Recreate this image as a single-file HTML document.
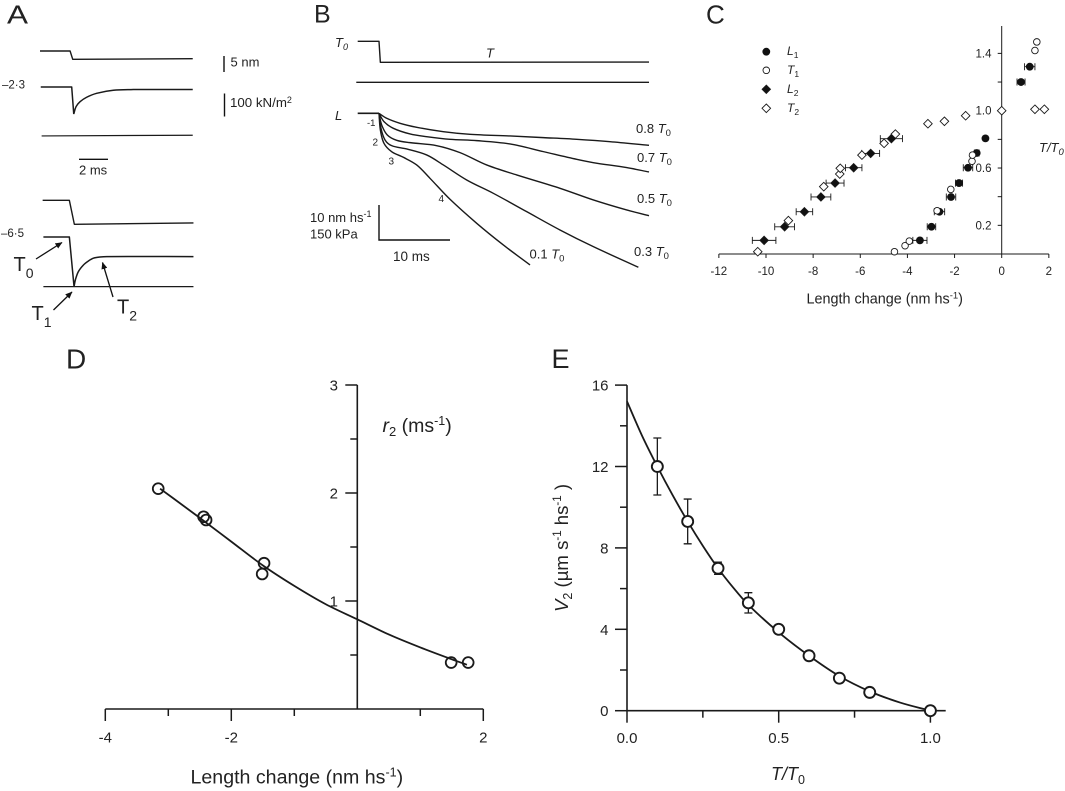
<!DOCTYPE html>
<html lang="en">
<head>
<meta charset="utf-8">
<title>Muscle length and tension panels</title>
<style>
html,body{margin:0;padding:0;background:#fff}
svg{display:block}
text{font-family:"Liberation Sans",sans-serif;fill:#222}
.it{font-style:italic}
</style>
</head>
<body>
<svg id="fig" xmlns="http://www.w3.org/2000/svg" width="1065" height="791" viewBox="0 0 1065 791">
<rect width="1065" height="791" fill="#fff"/>
<defs><marker id="ah" markerWidth="7" markerHeight="6" refX="6.5" refY="3" orient="auto" markerUnits="userSpaceOnUse"><path d="M0 0L7 3L0 6Z" fill="#111"/></marker></defs>

<g id="pa">
<text x="7" y="23.3" font-size="26" textLength="21" lengthAdjust="spacingAndGlyphs">A</text>
<text x="2" y="88.5" font-size="11.5">–2·3</text>
<text x="1" y="237" font-size="11.5">–6·5</text>
<line x1="224" y1="56" x2="224" y2="72" stroke="#111" stroke-width="1.4"/>
<text x="230.5" y="66.5" font-size="13">5 nm</text>
<line x1="224.5" y1="93.5" x2="224.5" y2="116.5" stroke="#111" stroke-width="1.4"/>
<text x="230" y="107" font-size="13.3">100 kN/m<tspan dy="-4" font-size="9">2</tspan></text>
<line x1="79" y1="159.3" x2="108" y2="159.3" stroke="#111" stroke-width="1.4"/>
<text x="79" y="174.5" font-size="13">2 ms</text>
<text x="13.5" y="271" font-size="20">T<tspan dy="7" font-size="14">0</tspan></text>
<text x="31.5" y="320" font-size="20">T<tspan dy="7" font-size="14">1</tspan></text>
<text x="117" y="313.5" font-size="20">T<tspan dy="7" font-size="14">2</tspan></text>
<line x1="36" y1="259" x2="62" y2="242.5" stroke="#111" stroke-width="1.3" marker-end="url(#ah)"/>
<line x1="53.5" y1="310" x2="72" y2="292" stroke="#111" stroke-width="1.3" marker-end="url(#ah)"/>
<line x1="113" y1="297" x2="102.5" y2="262.5" stroke="#111" stroke-width="1.3" marker-end="url(#ah)"/>
</g>

<g id="pb">
<text x="314" y="22.7" font-size="25">B</text>
<text class="it" x="335" y="47" font-size="13">T<tspan dy="3" font-size="9">0</tspan></text>
<text class="it" x="486" y="57.5" font-size="13">T</text>
<text class="it" x="335" y="120" font-size="13">L</text>
<text x="367" y="126" font-size="9.5">-1</text>
<text x="372.5" y="145.5" font-size="10">2</text>
<text x="388.5" y="164.5" font-size="10">3</text>
<text x="438.5" y="202" font-size="10">4</text>
<text x="636" y="133" font-size="13">0.8 <tspan class="it">T</tspan><tspan dy="3" font-size="9.5">0</tspan></text>
<text x="637" y="162" font-size="13">0.7 <tspan class="it">T</tspan><tspan dy="3" font-size="9.5">0</tspan></text>
<text x="637" y="203" font-size="13">0.5 <tspan class="it">T</tspan><tspan dy="3" font-size="9.5">0</tspan></text>
<text x="634" y="256" font-size="13">0.3 <tspan class="it">T</tspan><tspan dy="3" font-size="9.5">0</tspan></text>
<text x="529.5" y="258.5" font-size="13">0.1 <tspan class="it">T</tspan><tspan dy="3" font-size="9.5">0</tspan></text>
<polyline points="379,205 379,240 450,240" fill="none" stroke="#111" stroke-width="1.4"/>
<text x="310" y="222" font-size="13">10 nm hs<tspan dy="-5" font-size="9">-1</tspan></text>
<text x="310" y="238.5" font-size="13">150 kPa</text>
<text x="393" y="261" font-size="13.5">10 ms</text>
</g>

<g id="pc">
<text x="706" y="23.5" font-size="26">C</text>
<text x="806.5" y="303.5" font-size="14.4">Length change (nm hs<tspan dy="-5" font-size="9.5">-1</tspan><tspan dy="5">)</tspan></text>
<text class="it" x="1039" y="152" font-size="13">T/T<tspan dy="3" font-size="9.5">0</tspan></text>
<text class="it" x="787" y="55" font-size="12">L<tspan dy="3" font-size="8.5" font-style="normal">1</tspan></text>
<text class="it" x="787" y="74" font-size="12">T<tspan dy="3" font-size="8.5" font-style="normal">1</tspan></text>
<text class="it" x="787" y="93" font-size="12">L<tspan dy="3" font-size="8.5" font-style="normal">2</tspan></text>
<text class="it" x="787" y="112" font-size="12">T<tspan dy="3" font-size="8.5" font-style="normal">2</tspan></text>
</g>

<g id="pd">
<text x="66" y="368.3" font-size="28">D</text>
<text x="190.5" y="783.5" font-size="19.6">Length change (nm hs<tspan dy="-7" font-size="12.5">-1</tspan><tspan dy="7">)</tspan></text>
<text x="382.5" y="432" font-size="19.5"><tspan class="it">r</tspan><tspan dy="4" font-size="13">2</tspan><tspan dy="-4"> (ms</tspan><tspan dy="-7" font-size="12.5">-1</tspan><tspan dy="7">)</tspan></text>
</g>

<g id="pe">
<text x="551.5" y="368" font-size="27">E</text>
<text x="771" y="780" font-size="18"><tspan class="it">T</tspan><tspan class="it">/</tspan><tspan class="it">T</tspan><tspan dy="4" font-size="12.5">0</tspan></text>
<text transform="translate(568,612) rotate(-90)" font-size="18.6"><tspan class="it">V</tspan><tspan dy="4" font-size="12.5">2</tspan><tspan dy="-4"> (µm s</tspan><tspan dy="-7" font-size="11.5">-1</tspan><tspan dy="7"> hs</tspan><tspan dy="-7" font-size="11.5">-1</tspan><tspan dy="7"> )</tspan></text>
</g>
</svg>

<script>
// ---- Panel A data (time in ms, length in nm, tension in kN/m2) ----
const aLen1T = [-2.16, -0.11, 0.07, 8.25];
const aLen1V = [0, 0, -2.66, -2.45];
const aTen1T = [-2.11, 0, 0.14, 0.30, 0.57, 1.02, 1.70, 2.84, 4.2, 8.25];
const aTen1V = [0, 0, -116, -84, -63, -44, -27, -14, -11, -11];
const aBase1T = [-2.05, 8.25];
const aBase1V = [-210, -207];
const aLen2T = [-1.98, -0.16, 0.18, 8.3];
const aLen2V = [0, 0, -7.66, -7.23];
const aTen2T = [-1.93, -0.16, 0.16, 0.25, 0.45, 0.8, 1.14, 1.48, 1.93, 2.39, 8.3];
const aTen2V = [0, 0, -213, -184, -149, -120, -103, -91, -86, -84, -84];
const aBase2T = [-1.93, 8.3];
const aBase2V = [-213, -213];

// ---- Panel B data (time in ms, shortening in nm/hs, tension in kPa) ----
const bTensionT = [-3, 0, 0.19, 38.03];
const bTensionV = [0, 0, -90, -89];
const bZeroT = [-3.2, 38.03];
const bZeroV = [-176, -176];
const bLeadT = [-3, 0];
const bLeadV = [0, 0];
const b08T = [0, 1.08, 2.96, 5.31, 9.06, 12.82, 18.45, 23.15, 27.84, 32.54, 38.03];
const b08V = [0, -1.43, -2.86, -4, -5.24, -6, -6.48, -6.95, -7.43, -8.1, -9.14];
const b07T = [0, 0.70, 2.02, 4.37, 6.71, 10, 13.76, 18.45, 23.15, 27.84, 30.19, 34.88, 38.03];
const b07V = [0, -2.38, -4.29, -5.9, -6.67, -7.43, -7.81, -8.76, -10.95, -13.14, -14.1, -15.52, -16.76];
const b05T = [0, 0.38, 1.17, 2.49, 4.37, 8.12, 11.41, 15.16, 19.39, 25.49, 30.19, 34.88, 38.03];
const b05V = [0, -3.33, -6.19, -7.71, -8.38, -9.24, -11.24, -14.76, -17.62, -21.43, -24.76, -27.62, -29.24];
const b03T = [0, 0.28, 0.85, 1.78, 3.9, 6.71, 9.06, 12.35, 16.1, 20.8, 25.49, 30.19, 36.53];
const b03V = [0, -4.29, -7.62, -9.24, -10.19, -11.9, -14.76, -19.05, -22.86, -28.1, -33.33, -38.1, -44];
const b01T = [0, 0.19, 0.70, 1.78, 3.43, 5.31, 7.18, 10, 13.76, 17.51, 21.27];
const b01V = [0, -4.76, -8.57, -10.95, -12.57, -14.76, -18.57, -24.57, -31.43, -37.62, -43.33];

// ---- Panel C data ----
const cXTicks = [-12, -10, -8, -6, -4, -2, 0, 2];
const cXTickLabels = ['-12', '-10', '-8', '-6', '-4', '-2', '0', '2'];
const cYTicks = [0.2, 0.4, 0.6, 0.8, 1.0, 1.2, 1.4];
const cYTickLabels = ['0.2', '', '0.6', '', '1.0', '', '1.4'];
const l1X = [-0.69, -1.06, -1.43, -1.81, -2.15, -2.64, -2.98, -3.47, 0.82, 1.19];
const l1Y = [0.807, 0.705, 0.602, 0.495, 0.398, 0.295, 0.19, 0.095, 1.2, 1.307];
const l1Err = [0, 0.1, 0.2, 0.15, 0.2, 0.22, 0.18, 0.3, 0.17, 0.22];
const t1X = [-4.55, -4.1, -3.92, -2.74, -2.16, -1.26, -1.24, 1.41, 1.49];
const t1Y = [0.016, 0.058, 0.09, 0.302, 0.451, 0.647, 0.69, 1.42, 1.48];
const l2X = [-4.68, -5.56, -6.28, -7.07, -7.67, -8.37, -9.21, -10.08];
const l2Y = [0.805, 0.702, 0.602, 0.495, 0.398, 0.295, 0.19, 0.095];
const l2Err = [0.47, 0.38, 0.35, 0.38, 0.42, 0.35, 0.42, 0.5];
const t2X = [-10.35, -9.05, -7.55, -6.87, -6.85, -5.93, -4.99, -4.51, -3.13, -2.43, -1.53, 0, 1.41, 1.81];
const t2Y = [0.016, 0.233, 0.47, 0.558, 0.598, 0.69, 0.772, 0.837, 0.909, 0.926, 0.965, 1.0, 1.01, 1.01];

// ---- Panel D data ----
const dXTicks = [-4, -3, -2, -1, 0, 1, 2];
const dXTickLabels = ['-4', '', '-2', '', '', '', '2'];
const dYTicks = [0.5, 1, 1.5, 2, 2.5, 3];
const dYTickLabels = ['', '1', '', '2', '', '3'];
const dPointX = [-3.16, -2.44, -2.40, -1.48, -1.51, 1.49, 1.76];
const dPointY = [2.04, 1.78, 1.75, 1.35, 1.25, 0.43, 0.43];
const dCurveX = [-3.13, -2.5, -2, -1.5, -1, -0.5, 0, 0.5, 1, 1.5, 1.74];
const dCurveY = [2.04, 1.77, 1.55, 1.33, 1.14, 0.97, 0.83, 0.69, 0.57, 0.46, 0.41];

// ---- Panel E data ----
const eXTicks = [0, 0.25, 0.5, 0.75, 1];
const eXTickLabels = ['0.0', '', '0.5', '', '1.0'];
const eYTicks = [0, 2, 4, 6, 8, 10, 12, 14, 16];
const eYTickLabels = ['0', '', '4', '', '8', '', '12', '', '16'];
const ePointX = [0.1, 0.2, 0.3, 0.4, 0.5, 0.6, 0.7, 0.8, 1.0];
const ePointY = [12, 9.3, 7, 5.3, 4, 2.7, 1.6, 0.9, 0];
const eErrLow = [10.6, 8.2, 6.7, 4.8, 3.8, 2.6, 1.5, 0.8, 0];
const eErrHigh = [13.4, 10.4, 7.3, 5.8, 4.2, 2.8, 1.7, 1.0, 0];
const eCurveX = [0, 0.05, 0.1, 0.15, 0.2, 0.25, 0.3, 0.35, 0.4, 0.5, 0.6, 0.7, 0.8, 0.9, 1];
const eCurveY = [15.2, 13.5, 12, 10.6, 9.3, 8.1, 7, 6.05, 5.2, 3.85, 2.7, 1.7, 0.95, 0.4, 0];

// ---- Axis functions ----
const xA = t => 71.7 + 14.67 * t;
const yALen = (base, v) => base - 3.13 * v;
const yATen = (base, v) => base - 0.233 * v;
const xB = t => 379 + 7.1 * t;
const yBLen = v => 113.3 - 3.5 * v;
const yBTen = v => 41.3 - 0.233 * v;
const xC = v => 1001.7 + 23.57 * v;
const yC = v => 254 - 143.3 * v;
const xD = v => 357.3 + 63 * v;
const yD = v => 709 - 108 * v;
const xE = v => 627 + 303.4 * v;
const yE = v => 710.7 - 20.35 * v;

// ---- Drawing helpers ----
const NS = 'http://www.w3.org/2000/svg';
const INK = '#1a1a1a';
function mk(tag, attrs, parent) {
  const n = document.createElementNS(NS, tag);
  for (const k in attrs) n.setAttribute(k, attrs[k]);
  parent.appendChild(n);
  return n;
}
function polyD(pts) {
  return 'M' + pts.map(p => p[0].toFixed(2) + ' ' + p[1].toFixed(2)).join('L');
}
function tangent(a, b) {
  const dx = b[0] - a[0], dy = b[1] - a[1], l = Math.hypot(dx, dy) || 1;
  return [dx / l, dy / l];
}
function smoothD(pts) {
  let d = 'M' + pts[0][0].toFixed(2) + ' ' + pts[0][1].toFixed(2);
  for (let i = 0; i < pts.length - 1; i++) {
    const p0 = pts[Math.max(i - 1, 0)], p1 = pts[i], p2 = pts[i + 1], p3 = pts[Math.min(i + 2, pts.length - 1)];
    const len = Math.hypot(p2[0] - p1[0], p2[1] - p1[1]) / 3;
    const t1 = tangent(p0, p2), t2 = tangent(p1, p3);
    d += 'C' + (p1[0] + t1[0] * len).toFixed(2) + ' ' + (p1[1] + t1[1] * len).toFixed(2) + ' ' +
         (p2[0] - t2[0] * len).toFixed(2) + ' ' + (p2[1] - t2[1] * len).toFixed(2) + ' ' +
         p2[0].toFixed(2) + ' ' + p2[1].toFixed(2);
  }
  return d;
}
function pairs(xs, ys, fx, fy) {
  return xs.map((x, i) => [fx(x), fy(ys[i])]);
}
function stroke(d, w, parent) {
  return mk('path', { d: d, fill: 'none', stroke: INK, 'stroke-width': w, 'stroke-linejoin': 'round', 'stroke-linecap': 'butt' }, parent);
}
function seg(x1, y1, x2, y2, w, parent) {
  return mk('line', { x1: x1, y1: y1, x2: x2, y2: y2, stroke: INK, 'stroke-width': w }, parent);
}
function label(x, y, size, anchor, str, parent) {
  const t = mk('text', { x: x, y: y, 'font-size': size, 'text-anchor': anchor }, parent);
  t.textContent = str;
  return t;
}

// ---- Panel A ----
const pa = document.getElementById('pa');
const aLen = b => (v => yALen(b, v));
const aTen = b => (v => yATen(b, v));
const a1 = stroke(polyD(pairs(aLen1T, aLen1V, xA, aLen(51))), 1.4, pa);


const a2 = stroke(smoothD(pairs(aTen1T.slice(2), aTen1V.slice(2), xA, aTen(87))) + 'M' + xA(aTen1T[0]) + ' 87L' + xA(aTen1T[1]) + ' 87L' + xA(aTen1T[2]) + ' ' + yATen(87, aTen1V[2]), 1.5, pa);


const a3 = stroke(polyD(pairs(aBase1T, aBase1V, xA, aTen(87))), 1.2, pa);


const a4 = stroke(polyD(pairs(aLen2T, aLen2V, xA, aLen(200.3))), 1.4, pa);


const a5 = stroke(smoothD(pairs(aTen2T.slice(2), aTen2V.slice(2), xA, aTen(237))) + 'M' + xA(aTen2T[0]) + ' 237L' + xA(aTen2T[1]) + ' 237L' + xA(aTen2T[2]) + ' ' + yATen(237, aTen2V[2]), 1.5, pa);


const a6 = stroke(polyD(pairs(aBase2T, aBase2V, xA, aTen(237))), 1.3, pa);



// ---- Panel B ----
const pb = document.getElementById('pb');
const b1 = stroke(polyD(pairs(bTensionT, bTensionV, xB, yBTen)), 1.4, pb);


const b2 = stroke(polyD(pairs(bZeroT, bZeroV, xB, yBTen)), 1.4, pb);


const b3 = stroke(polyD(pairs(bLeadT, bLeadV, xB, yBLen)), 1.6, pb);


const bCurves = [[b08T, b08V, 'length-trace-0-8'], [b07T, b07V, 'length-trace-0-7'], [b05T, b05V, 'length-trace-0-5'], [b03T, b03V, 'length-trace-0-3'], [b01T, b01V, 'length-trace-0-1']];
bCurves.forEach(c => {
  const p = stroke(smoothD(pairs(c[0], c[1], xB, yBLen)), 1.4, pb);
  
  
});

// ---- Panel C ----
const pc = document.getElementById('pc');
const cAxisX = seg(xC(-12), yC(0), xC(2), yC(0), 1, pc);


const cAxisY = seg(xC(0), 26, xC(0), yC(0), 1, pc);


cXTicks.forEach((v, i) => {
  const tk = seg(xC(v), yC(0), xC(v), yC(0) + 4, 1, pc);
  
  
  const lb = label(xC(v), 275, 11.5, 'middle', cXTickLabels[i], pc);
  
  
});
cYTicks.forEach((v, i) => {
  const tk = seg(xC(0) - 4, yC(v), xC(0), yC(v), 1, pc);
  
  
  if (cYTickLabels[i]) {
    const lb = label(991.5, yC(v) + 4, 11.5, 'end', cYTickLabels[i], pc);
    
    
  }
});
function diamond(cx, cy, r, fill, parent) {
  return mk('path', { d: 'M' + cx + ' ' + (cy - r) + 'L' + (cx + r) + ' ' + cy + 'L' + cx + ' ' + (cy + r) + 'L' + (cx - r) + ' ' + cy + 'Z', fill: fill, stroke: INK, 'stroke-width': 0.9 }, parent);
}
function errH(cx, cy, lo, hi, parent) {
  return mk('path', { d: 'M' + lo + ' ' + cy + 'H' + hi + 'M' + lo + ' ' + (cy - 3.5) + 'V' + (cy + 3.5) + 'M' + hi + ' ' + (cy - 3.5) + 'V' + (cy + 3.5), fill: 'none', stroke: INK, 'stroke-width': 0.9 }, parent);
}
l2X.forEach((x, i) => {
  const e = errH(xC(x), yC(l2Y[i]), xC(x - l2Err[i]), xC(x + l2Err[i]), pc);
  
  
  const m = diamond(xC(x), yC(l2Y[i]), 4.2, '#111', pc);
  
  
});
l1X.forEach((x, i) => {
  if (l1Err[i]) {
    const e = errH(xC(x), yC(l1Y[i]), xC(x - l1Err[i]), xC(x + l1Err[i]), pc);
    
    
  }
  const m = mk('circle', { cx: xC(x), cy: yC(l1Y[i]), r: 3.9, fill: '#111' }, pc);
  
  
});
t1X.forEach((x, i) => {
  const m = mk('circle', { cx: xC(x), cy: yC(t1Y[i]), r: 3.3, fill: '#fff', stroke: INK, 'stroke-width': 0.9 }, pc);
  
  
});
t2X.forEach((x, i) => {
  const m = diamond(xC(x), yC(t2Y[i]), 4.3, '#fff', pc);
  
  
});
const lg1 = mk('circle', { cx: 766.3, cy: 51.7, r: 3.9, fill: '#111' }, pc);


const lg2 = mk('circle', { cx: 766.3, cy: 70.3, r: 3.3, fill: '#fff', stroke: INK, 'stroke-width': 0.9 }, pc);


const lg3 = diamond(766.3, 89.3, 4.2, '#111', pc);


const lg4 = diamond(766.3, 108.3, 4.3, '#fff', pc);



// ---- Panel D ----
const pd = document.getElementById('pd');
const dAxisX = seg(xD(-4), yD(0), xD(2), yD(0), 1.6, pd);


const dAxisY = seg(xD(0), yD(3), xD(0), yD(0), 1.6, pd);


dXTicks.forEach((v, i) => {
  if (v === 0) return;
  const major = Boolean(dXTickLabels[i]);
  const tk = seg(xD(v), yD(0), xD(v), yD(0) + (major ? 12 : 7), 1.5, pd);
  
  
  if (major) {
    const lb = label(xD(v), 742.5, 15, 'middle', dXTickLabels[i], pd);
    
    
  }
});
dYTicks.forEach((v, i) => {
  const major = Boolean(dYTickLabels[i]);
  const tk = seg(xD(0) - (major ? 12 : 7), yD(v), xD(0), yD(v), 1.5, pd);
  
  
  if (major) {
    const lb = label(338, yD(v) + 5.5, 15, 'end', dYTickLabels[i], pd);
    
    
  }
});
const dCurve = stroke(smoothD(pairs(dCurveX, dCurveY, xD, yD)), 1.8, pd);


dPointX.forEach((x, i) => {
  const m = mk('circle', { cx: xD(x), cy: yD(dPointY[i]), r: 5.4, fill: 'none', stroke: INK, 'stroke-width': 1.8 }, pd);
  
  
});

// ---- Panel E ----
const pe = document.getElementById('pe');
const eAxisX = seg(xE(0), yE(0), 945.7, yE(0), 1.6, pe);


const eAxisY = seg(xE(0), yE(16), xE(0), yE(0), 1.6, pe);


eXTicks.forEach((v, i) => {
  const major = Boolean(eXTickLabels[i]);
  const tk = seg(xE(v), yE(0), xE(v), yE(0) + (major ? 12 : 7), 1.5, pe);
  
  
  if (major) {
    const lb = label(xE(v), 743, 15, 'middle', eXTickLabels[i], pe);
    
    
  }
});
eYTicks.forEach((v, i) => {
  const major = Boolean(eYTickLabels[i]);
  const tk = seg(xE(0) - (major ? 12 : 7), yE(v), xE(0), yE(v), 1.5, pe);
  
  
  if (major) {
    const lb = label(608.5, yE(v) + 5.5, 15, 'end', eYTickLabels[i], pe);
    
    
  }
});
const eCurve = stroke(smoothD(pairs(eCurveX, eCurveY, xE, yE)), 1.8, pe);


ePointX.forEach((x, i) => {
  const cx = xE(x);
  const e = mk('path', { d: 'M' + cx + ' ' + yE(eErrLow[i]) + 'V' + yE(eErrHigh[i]) + 'M' + (cx - 4) + ' ' + yE(eErrLow[i]) + 'h8M' + (cx - 4) + ' ' + yE(eErrHigh[i]) + 'h8', fill: 'none', stroke: INK, 'stroke-width': 1.3 }, pe);
  
  
  const m = mk('circle', { cx: cx, cy: yE(ePointY[i]), r: 5.5, fill: '#fff', stroke: INK, 'stroke-width': 1.9 }, pe);
  
  
});
</script>
</body>
</html>
